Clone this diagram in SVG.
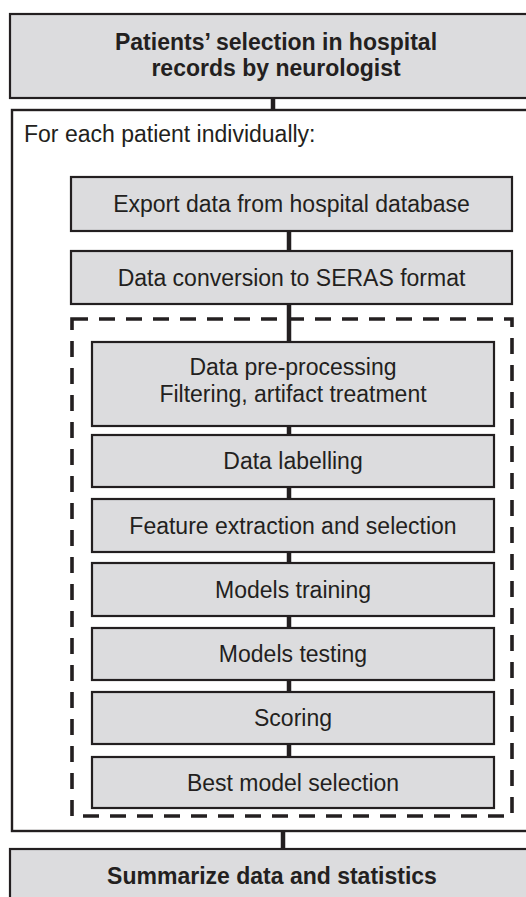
<svg xmlns="http://www.w3.org/2000/svg" width="526" height="897" viewBox="0 0 526 897">
  <style>
    .box { fill: #dcdcde; stroke: #231f20; stroke-width: 2.2; }
    .frame { fill: #ffffff; stroke: #231f20; stroke-width: 2.4; }
    .dash { fill: none; stroke: #231f20; stroke-width: 3.6; stroke-dasharray: 16 11; }
    .link { stroke: #231f20; stroke-width: 4.5; fill: none; }
    text { font-family: "Liberation Sans", Arial, sans-serif; font-size: 23px; fill: #231f20; }
    .c { text-anchor: middle; }
    .b { font-weight: bold; }
  </style>

  <!-- outer frame for per-patient processing -->
  <g id="per-patient">
    <rect class="frame" x="12" y="110" width="530" height="721"/>
    <text x="24" y="142">For each patient individually:</text>
  </g>

  <!-- dashed group around the modelling steps -->
  <g id="modelling-group">
    <rect class="dash" x="72" y="319" width="440" height="497"/>
  </g>

  <!-- connectors -->
  <g id="connectors">
    <line class="link" x1="273" y1="98" x2="273" y2="110"/>
    <line class="link" x1="289" y1="231" x2="289" y2="251"/>
    <line class="link" x1="289" y1="304" x2="289" y2="342"/>
    <line class="link" x1="289" y1="426" x2="289" y2="435"/>
    <line class="link" x1="289" y1="487" x2="289" y2="499"/>
    <line class="link" x1="289" y1="552" x2="289" y2="563"/>
    <line class="link" x1="289" y1="616" x2="289" y2="628"/>
    <line class="link" x1="289" y1="680" x2="289" y2="692"/>
    <line class="link" x1="289" y1="744" x2="289" y2="757"/>
    <line class="link" x1="283" y1="831" x2="283" y2="849"/>
  </g>

  <g id="patients-selection">
    <rect class="box" x="10" y="14" width="540" height="84"/>
    <text class="c b" x="276" y="50">Patients’ selection in hospital</text>
    <text class="c b" x="276" y="76">records by neurologist</text>
  </g>

  <g id="export">
    <rect class="box" x="71" y="177" width="441" height="54"/>
    <text class="c" x="291.5" y="212">Export data from hospital database</text>
  </g>

  <g id="conversion">
    <rect class="box" x="71" y="251" width="441" height="53"/>
    <text class="c" x="291.5" y="285.5">Data conversion to SERAS format</text>
  </g>

  <g id="preprocessing">
    <rect class="box" x="92" y="342" width="402" height="84"/>
    <text class="c" x="293" y="375">Data pre-processing</text>
    <text class="c" x="293" y="402">Filtering, artifact treatment</text>
  </g>

  <g id="labelling">
    <rect class="box" x="92" y="435" width="402" height="52"/>
    <text class="c" x="293" y="469">Data labelling</text>
  </g>

  <g id="features">
    <rect class="box" x="92" y="499" width="402" height="53"/>
    <text class="c" x="293" y="533.5">Feature extraction and selection</text>
  </g>

  <g id="training">
    <rect class="box" x="92" y="563" width="402" height="53"/>
    <text class="c" x="293" y="597.5">Models training</text>
  </g>

  <g id="testing">
    <rect class="box" x="92" y="628" width="402" height="52"/>
    <text class="c" x="293" y="662">Models testing</text>
  </g>

  <g id="scoring">
    <rect class="box" x="92" y="692" width="402" height="52"/>
    <text class="c" x="293" y="726">Scoring</text>
  </g>

  <g id="best-model">
    <rect class="box" x="92" y="757" width="402" height="51"/>
    <text class="c" x="293" y="790.5">Best model selection</text>
  </g>

  <g id="summary">
    <rect class="box" x="10" y="849" width="540" height="80"/>
    <text class="c b" x="272" y="884">Summarize data and statistics</text>
  </g>
</svg>
